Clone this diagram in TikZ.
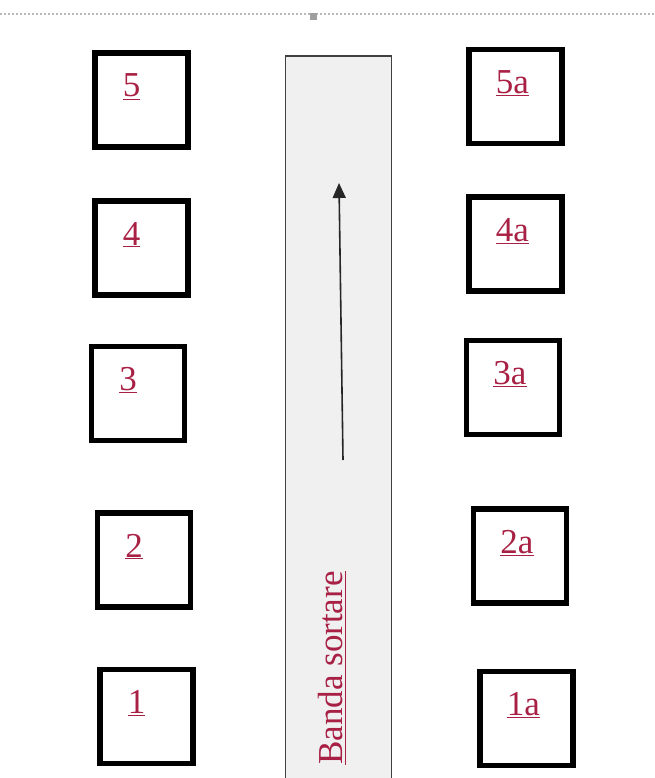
\documentclass[tikz,border=0pt]{standalone}
\usepackage{fontspec}
\setmainfont{Liberation Serif}
\usetikzlibrary{calc,arrows.meta}
\definecolor{labred}{RGB}{168,32,68}
\definecolor{beltgray}{RGB}{240,240,240}
\begin{document}
\begin{tikzpicture}[
  x=1pt, y=-1pt,
  post/.style={draw,line width=5.5pt,minimum width=93pt,minimum height=94pt,
    inner sep=0pt},
  lbl/.style={anchor=base,text=labred,inner sep=0pt,
    font=\fontsize{35}{40}\selectfont},
  belt/.style={draw=black!75,line width=1.8pt,fill=beltgray,
    minimum width=106pt,minimum height=740pt,inner sep=0pt},
  flow/.style={draw=black!85,line width=1.6pt,
    -{Triangle[width=13pt,length=15pt]}}]
\useasboundingbox (0,0) rectangle (655,778);
% page margin line
\draw[gray!55,line width=2pt,dash pattern=on 2pt off 2pt] (0,14) -- (655,14);
\node[fill=gray!75,minimum size=7pt,inner sep=0pt] (handle) at (313,17) {};
% conveyor
\node[belt,anchor=north] (banda) at (338.5,55) {};
\coordinate (tail) at (343,460);
\coordinate (head) at (339,183);
\draw[flow] (tail) -- (head);
\node[lbl,rotate=90,anchor=center] (bandatxt) at (332,668) {\underline{Banda sortare}};
% left posts
\node[post] (b5) at (141.5,100) {};
\node[post] (b4) at (141.5,248) {};
\node[post] (b3) at (138,393.5) {};
\node[post] (b2) at (144,560) {};
\node[post] (b1) at (146.5,716.5) {};
% right posts
\node[post] (b5a) at (515.5,96.5) {};
\node[post] (b4a) at (515.5,244) {};
\node[post] (b3a) at (513,387.5) {};
\node[post] (b2a) at (520,556) {};
\node[post] (b1a) at (526.5,718.5) {};
% labels
\foreach \n in {5,4,3,2,1}{
  \node[lbl] (l\n) at ($(b\n.center)+(-10,-3)$) {\underline{\n}};
  \node[lbl] (l\n a) at ($(b\n a.center)+(-3,-3)$) {\underline{\n a}};
}
\end{tikzpicture}
\end{document}
